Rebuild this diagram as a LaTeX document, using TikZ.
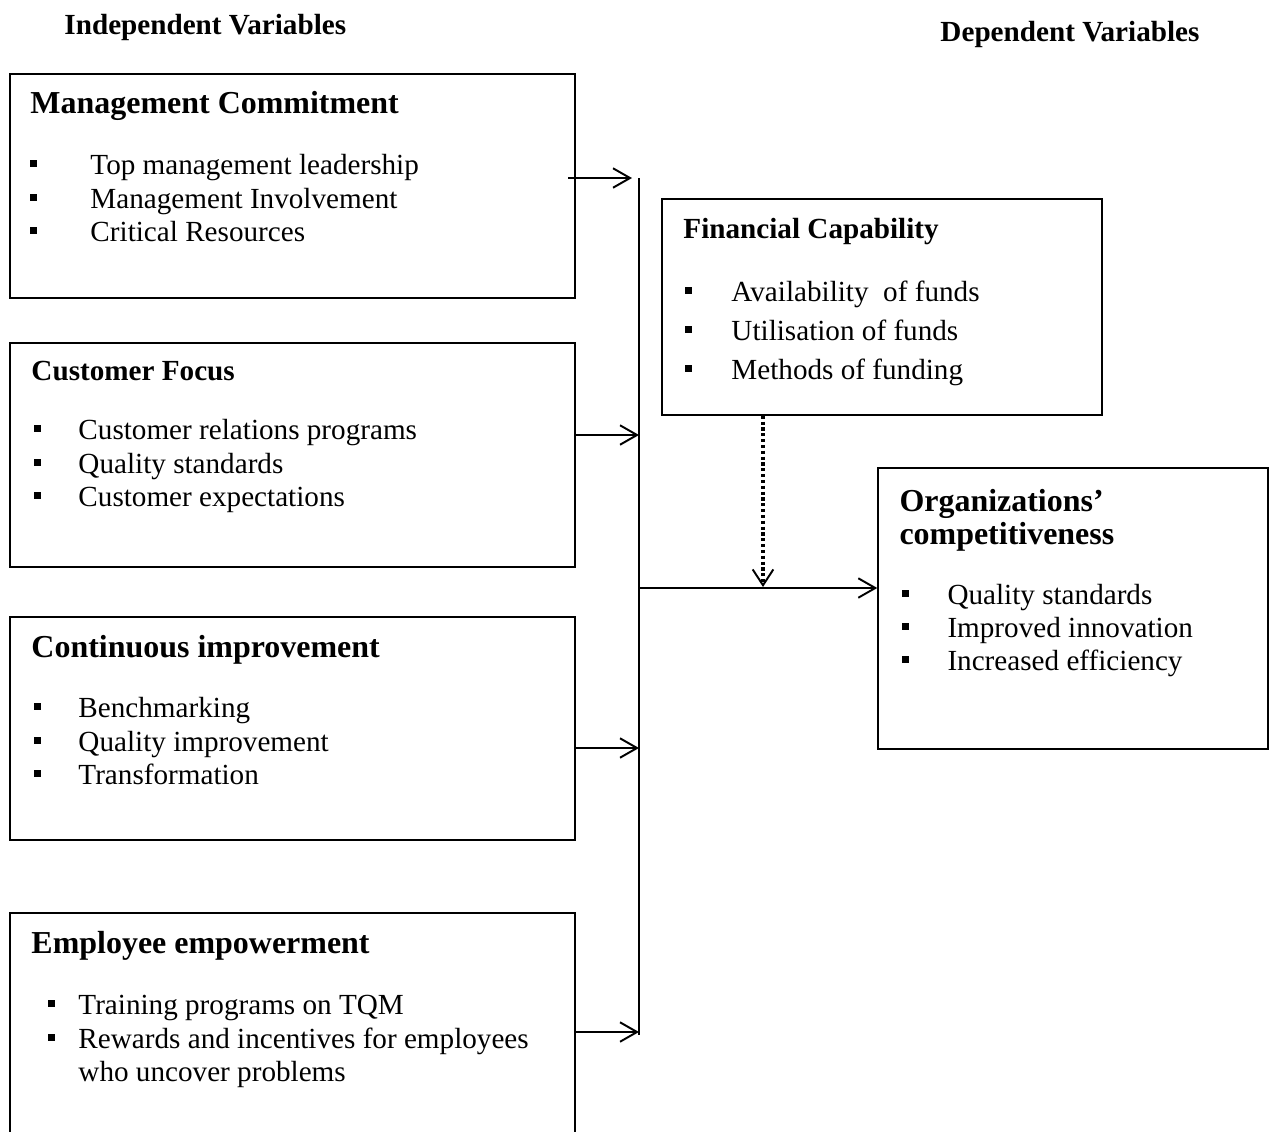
\documentclass[tikz,border=0pt]{standalone}
\usepackage{fontspec}
\setmainfont{Liberation Serif}
\usetikzlibrary{arrows.meta,fit}
\tikzset{
  box/.style={draw, line width=0.6pt, inner sep=0pt},
  txt/.style={anchor=base west, inner sep=0pt, font=\fontsize{12}{14}\selectfont},
  head/.style={anchor=base west, inner sep=0pt, font=\fontsize{12}{14}\selectfont\bfseries},
  bighead/.style={anchor=base west, inner sep=0pt, font=\fontsize{13.15}{15}\selectfont\bfseries},
  link/.style={line width=0.8pt, -{Straight Barb[length=7pt,width=8pt,line width=0.8pt]}},
  busline/.style={line width=0.8pt},
  mod/.style={line width=1.3pt, dash pattern=on 1.3pt off 1.1pt, -{Straight Barb[length=6.5pt,width=8.5pt,line width=0.8pt]}},
}
% bullet: #1 x of bullet centre, #2 x of text, #3 baseline y, #4 name, #5 text
\newcommand{\bitem}[5]{%
  \fill (#1-3.5,#3-14) rectangle (#1+3.5,#3-7);
  \node[txt] (#4) at (#2,#3) {#5};}
\begin{document}
\begin{tikzpicture}[x=0.4115pt,y=-0.4115pt]
\clip (0,0) rectangle (1277,1131);
\fill[white] (0,0) rectangle (1277,1131);

\node[head] (indep) at (64,34) {Independent Variables};
\node[head] (dep) at (940,41) {Dependent Variables};

% Management Commitment
\node[box, fit={(10,74)(575,298)}] (mc) {};
\node[bighead] (mch) at (30,113) {Management Commitment};
\bitem{33}{90}{174}{mc1}{Top management leadership}
\bitem{33}{90}{208}{mc2}{Management Involvement}
\bitem{33}{90}{241}{mc3}{Critical Resources}

% Customer Focus
\node[box, fit={(10,343)(575,567)}] (cf) {};
\node[head] (cfh) at (31,380) {Customer Focus};
\bitem{37}{78}{439}{cf1}{Customer relations programs}
\bitem{37}{78}{473}{cf2}{Quality standards}
\bitem{37}{78}{506}{cf3}{Customer expectations}

% Continuous improvement
\node[box, fit={(10,617)(575,840)}] (ci) {};
\node[bighead] (cih) at (31,657) {Continuous improvement};
\bitem{37}{78}{717}{ci1}{Benchmarking}
\bitem{37}{78}{751}{ci2}{Quality improvement}
\bitem{37}{78}{784}{ci3}{Transformation}

% Employee empowerment
\node[box, fit={(10,913)(575,1160)}] (ee) {};
\node[bighead] (eeh) at (31,953) {Employee empowerment};
\bitem{51}{78}{1014}{ee1}{Training programs on TQM}
\bitem{51}{78}{1048}{ee2}{Rewards and incentives for employees}
\node[txt] (ee3) at (78,1081) {who uncover problems};

% Financial Capability
\node[box, fit={(662,199)(1102,415)}] (fc) {};
\node[head] (fch) at (683,238) {Financial Capability};
\bitem{688}{731}{301}{fc1}{Availability\ \ of funds}
\bitem{688}{731}{340}{fc2}{Utilisation of funds}
\bitem{688}{731}{379}{fc3}{Methods of funding}

% Organizations' competitiveness
\node[box, fit={(878,468)(1268,749)}] (oc) {};
\node[bighead] (och1) at (899,511) {Organizations’};
\node[bighead] (och2) at (899,544) {competitiveness};
\bitem{905}{947}{604}{oc1}{Quality standards}
\bitem{905}{947}{637}{oc2}{Improved innovation}
\bitem{905}{947}{670}{oc3}{Increased efficiency}

% bus line
\coordinate (bt) at (639,178);
\coordinate (bb) at (639,1035);
\draw[busline] (bt) -- (bb);

\coordinate (a1) at (568,178);
\coordinate (t1) at (632,178);
\draw[link] (a1) -- (t1);
\draw[link] (cf.east |- 0,435) -- (bt |- 0,435);
\draw[link] (ci.east |- 0,748) -- (bt |- 0,748);
\draw[link] (ee.east |- 0,1032) -- (bt |- 0,1032);

% output
\coordinate (out) at (639,588);
\draw[link] (out) -- (oc.west |- out);

% moderating dotted arrow
\coordinate (mtop) at (763,415);
\draw[mod] (fc.south -| mtop) -- (763,587);
\end{tikzpicture}
\end{document}
